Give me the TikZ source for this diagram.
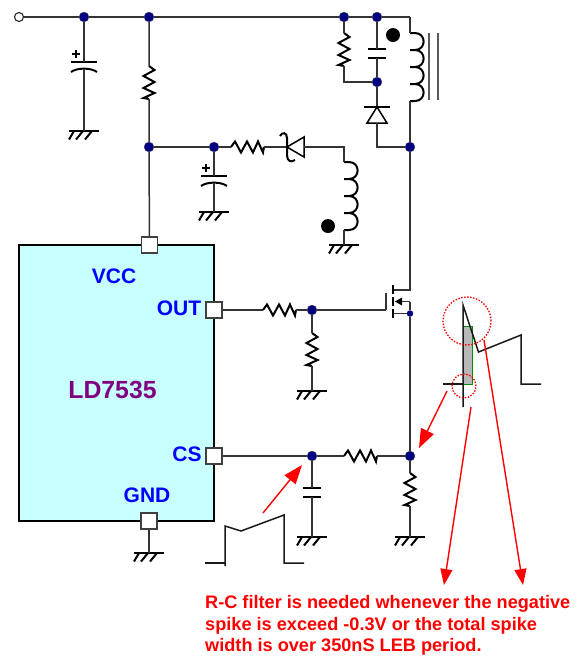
\documentclass[tikz,border=0pt]{standalone}
\usepackage{fontspec}
\setmainfont{Liberation Sans}
\usetikzlibrary{arrows.meta}
\definecolor{icfill}{HTML}{C8FFFF}
\definecolor{dotblue}{HTML}{000080}
\definecolor{lblue}{HTML}{0000FF}
\definecolor{lpurple}{HTML}{800080}
\tikzset{
  wire/.style={line width=1.5pt,black!80,line join=miter},
  part/.style={line width=2pt,black},
  dotn/.style={circle,fill=dotblue,draw=black!60,line width=0.3pt,inner sep=0pt,minimum size=10pt},
  sdot/.style={circle,fill=dotblue,inner sep=0pt,minimum size=6.5pt},
  pinbox/.style={rectangle,draw=black!75,line width=1.4pt,fill=white,inner sep=0pt,minimum size=16pt},
  term/.style={circle,draw=black!85,line width=1.1pt,fill=white,inner sep=0pt,minimum size=9pt},
  blab/.style={font=\bfseries\fontsize{21}{23}\selectfont,text=lblue,inner sep=0pt},
  redarrow/.style={draw=red,line width=1.4pt,-{Triangle[length=16pt,width=12pt,fill=red]}},
  redarrowbig/.style={draw=red,line width=1.4pt,-{Triangle[length=19pt,width=14pt,fill=red]}},
  redring/.style={draw=red,line width=1.3pt,dash pattern=on 1.5pt off 1.5pt},
  wave/.style={line width=1.5pt,black!90},
  notetext/.style={anchor=west,font=\bfseries\fontsize{18.15}{20}\selectfont,text=red,inner sep=0pt},
  res/.pic={
    \draw[part] (0,0) -- (4,-5.5) -- (10,5.5) -- (16,-5.5) -- (22,5.5) -- (27,-5.5) -- (32,5.5) -- (33,0);
    \coordinate (-a) at (0,0); \coordinate (-b) at (33,0);
  },
  gnd/.pic={
    \draw[part] (-15,0) -- (15,0);
    \draw[part] (-10,0) -- (-15,8.5) (-1,0) -- (-8,8.5) (8,0) -- (1,8.5);
    \coordinate (-t) at (0,0);
  },
  coil/.pic={
    \draw[part] (0,0)
      \foreach \i in {0,17,34,51}{ -- (5,\i) .. controls (16.5,\i) and (16.5,\i+17) .. (5,\i+17) -- (0,\i+17) };
    \coordinate (-a) at (0,0); \coordinate (-b) at (0,68);
  },
  npcap/.pic={
    \draw[part] (-9,0) -- (9,0) (-9,9) -- (9,9);
    \coordinate (-a) at (0,0); \coordinate (-b) at (0,9);
  },
  pcap/.pic={
    \draw[part] (-13,0) -- (13,0);
    \draw[part] (-13,10) .. controls (-7,5.5) and (7,5.5) .. (13,10);
    \draw[line width=1.2pt] (-12,-8) -- (-4,-8) (-8,-12) -- (-8,-4);
    \coordinate (-a) at (0,0); \coordinate (-b) at (0,6.5);
  },
}
\begin{document}
\begin{tikzpicture}[x=1pt,y=-1pt]
\useasboundingbox (0,0) rectangle (579,657);
% IC
\node[rectangle,draw=black,line width=2pt,fill=icfill,minimum width=195pt,minimum height=276pt,inner sep=0pt] (ic) at (116.5,383) {};
\node[blab] (lvcc) at (114,276) {VCC};
\node[blab] (lout) at (179,308) {OUT};
\node[blab] (lcs) at (187,454) {CS};
\node[blab] (lgnd) at (147,495) {GND};
\node[font=\bfseries\fontsize{24.8}{26}\selectfont,text=lpurple,inner sep=0pt] (lname) at (112.5,390) {LD7535};
% junctions
\node[term] (vin) at (19,17) {};
\node[dotn] (d1) at (84,17) {};
\node[dotn] (d2) at (149,17) {};
\node[dotn] (d3) at (344,17) {};
\node[dotn] (d4) at (377,17) {};
\node[dotn] (d5) at (377,82) {};
\node[dotn] (d6) at (410,147) {};
\node[dotn] (d7) at (149,147) {};
\node[dotn] (d8) at (214,147) {};
\node[dotn] (d9) at (312,310) {};
\node[dotn] (d10) at (312,456) {};
\node[dotn] (d11) at (410,456) {};
\node[sdot] (d12) at (410,313.5) {};
% pins
\node[pinbox] (pvcc) at (149.5,245) {};
\node[pinbox] (pout) at (214,310) {};
\node[pinbox] (pcs) at (214,456) {};
\node[pinbox] (pgnd) at (149,521) {};
% top rail
\coordinate (tc) at (410,17);
\draw[wire] (vin) -- (d1) -- (d2) -- (d3) -- (d4) -- (tc);
% input cap
\pic (c1) at (84,62) {pcap};
\pic (g1) at (84,131) {gnd};
\draw[wire] (d1) -- (c1-a) (c1-b) -- (g1-t);
% R to vcc
\pic[rotate=-90] (r1) at (149,66) {res};
\draw[wire] (d2) -- (r1-a) (r1-b) -- (d7) -- (pvcc);
% aux branch
\draw[wire] (d7) -- (d8);
\pic (c2) at (214,176) {pcap};
\pic (g2) at (214,212) {gnd};
\draw[wire] (d8) -- (c2-a) (c2-b) -- (g2-t);
\pic (r2) at (231,147) {res};
\draw[wire] (d8) -- (r2-a);
% zener
\coordinate (za) at (287,147);
\coordinate (zk) at (304,147);
\draw[wire] (r2-b) -- (za);
\draw[line width=1.5pt] (304,137) -- (304,157) -- (287,147) -- cycle;
\draw[part] (280,136) .. controls (282,132) and (287,132) .. (287,138) -- (287,155) .. controls (287,161) and (291,163) .. (295,160);
% aux coil
\coordinate (ac) at (344,147);
\pic (l2) at (344,162) {coil};
\pic (g3) at (344,245) {gnd};
\draw[wire] (zk) -- (ac) -- (l2-a) (l2-b) -- (g3-t);
\node[circle,fill=black,inner sep=0pt,minimum size=14pt] (dotA) at (328,226) {};
% snubber
\pic[rotate=-90] (r3) at (344,33) {res};
\coordinate (sc) at (344,82);
\draw[wire] (d3) -- (r3-a) (r3-b) -- (sc) -- (d5);
\pic (c3) at (377,49) {npcap};
\draw[wire] (d4) -- (c3-a) (c3-b) -- (d5);
% snubber diode
\coordinate (dk) at (377,107);
\coordinate (da) at (377,123);
\coordinate (dc) at (377,147);
\draw[wire] (d5) -- (dk);
\draw[part] (364,107) -- (390,107);
\draw[line width=1.5pt] (377,107) -- (387,123) -- (367,123) -- cycle;
\draw[wire] (da) -- (dc) -- (d6);
% main coil
\pic (l1) at (410,33) {coil};
\draw[wire] (tc) -- (l1-a) (l1-b) -- (d6);
\draw[line width=2pt,black!65] (429,33) -- (429,100) (438,33) -- (438,100);
\node[circle,fill=black,inner sep=0pt,minimum size=14pt] (dotB) at (393,35) {};
% MOSFET
\coordinate (mdt) at (410,290);
\coordinate (mdb) at (393,290);
\coordinate (msm) at (410,301.5);
\coordinate (msl) at (395,301.5);
\coordinate (mgt) at (386,293);
\coordinate (mgb) at (386,310);
\coordinate (msb) at (393,313.5);
\draw[wire] (d6) -- (mdt) -- (mdb);
\draw[part] (393,285) -- (393,294) (393,297) -- (393,306) (393,309) -- (393,318);
\draw[wire] (msm) -- (msl);
\fill (395,301.5) -- (402,297.5) -- (402,305.5) -- cycle;
\draw[wire] (msm) -- (d12) -- (d11);
\draw[wire] (msb) -- (d12);
\draw[wire] (mgt) -- (mgb);
% gate drive
\pic (r4) at (263,310) {res};
\draw[wire] (pout) -- (r4-a) (r4-b) -- (d9) -- (mgb);
\pic[rotate=-90] (r5) at (312,333) {res};
\pic (g4) at (312,391) {gnd};
\draw[wire] (d9) -- (r5-a) (r5-b) -- (g4-t);
% current sense
\pic (r6) at (344,456) {res};
\draw[wire] (pcs) -- (d10) -- (r6-a) (r6-b) -- (d11);
\pic (c4) at (312,488) {npcap};
\pic (g5) at (312,537) {gnd};
\draw[wire] (d10) -- (c4-a) (c4-b) -- (g5-t);
\pic[rotate=-90] (r7) at (410,473) {res};
\pic (g6) at (410,537) {gnd};
\draw[wire] (d11) -- (r7-a) (r7-b) -- (g6-t);
\pic (g7) at (149,553) {gnd};
\draw[wire] (pgnd) -- (g7-t);
% waveform right
\node[rectangle,draw=green!55!black,line width=0.9pt,fill=black!28,minimum width=9pt,minimum height=58pt,inner sep=0pt] (spike) at (467.5,355) {};
\draw[wave] (443,384) -- (463,384);
\draw[wave] (463,407) -- (463,305) -- (478.5,352) -- (521,335) -- (521,384) -- (541,384);
\node[circle,redring,minimum size=48pt,inner sep=0pt] (ring1) at (467,321) {};
\node[circle,redring,minimum size=24pt,inner sep=0pt] (ring2) at (464,386) {};
% waveform lower
\draw[wave] (205,563) -- (225,563);
\draw[wave] (225,566) -- (225,526) -- (241,531) -- (284,515) -- (284,563) -- (304,563);
% red arrows
\coordinate (a1s) at (263,513);
\coordinate (a1e) at (302,465);
\draw[redarrowbig] (a1s) -- (a1e);
\coordinate (a2s) at (447,391);
\coordinate (a2e) at (419,448);
\draw[redarrowbig] (a2s) -- (a2e);
\coordinate (a3s) at (471,407);
\coordinate (a3e) at (444,585);
\draw[redarrow] (a3s) -- (a3e);
\coordinate (a4s) at (484,340);
\coordinate (a4e) at (523,585);
\draw[redarrow] (a4s) -- (a4e);
% note
\node[notetext] (n1) at (205,604) {R-C filter is needed whenever the negative};
\node[notetext] (n2) at (205,626) {spike is exceed -0.3V or the total spike};
\node[notetext] (n3) at (205,647) {width is over 350nS LEB period.};
\end{tikzpicture}
\end{document}
